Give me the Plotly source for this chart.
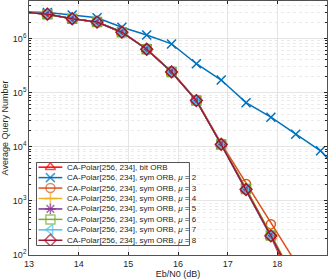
import plotly.graph_objects as go

ebn0 = [12.87, 13.37, 13.87, 14.37, 14.87, 15.37, 15.87, 16.37, 16.87, 17.37, 17.87, 18.37, 18.87, 19.37]

bit_orb = [3.1e6, 2.8e6, 2.3e6, 2.0e6, 1.3e6, 6.3e5, 2.4e5, 7.1e4, 1.1e4, 1.6e3, 2.2e2, 2.2e1, 2.0, 0.2]
mu2 = [3.1e6, 3.0e6, 2.7e6, 2.4e6, 1.6e6, 1.15e6, 7.9e5, 3.4e5, 1.7e5, 6.5e4, 3.5e4, 1.7e4, 8.4e3, 2.6e3]
mu3 = [3.1e6, 2.8e6, 2.3e6, 2.0e6, 1.3e6, 6.4e5, 2.45e5, 7.3e4, 1.15e4, 2.05e3, 3.7e2, 7.0e1, 1.3e1, 2.5]
mu4 = [3.1e6, 2.8e6, 2.3e6, 2.0e6, 1.3e6, 6.3e5, 2.4e5, 7.2e4, 1.12e4, 1.7e3, 2.4e2, 3.5e1, 5.0, 0.7]
mu5 = [3.1e6, 2.8e6, 2.3e6, 2.0e6, 1.3e6, 6.3e5, 2.4e5, 7.1e4, 1.1e4, 1.65e3, 2.3e2, 3.3e1, 4.6, 0.6]
mu6 = [3.1e6, 2.8e6, 2.3e6, 2.0e6, 1.3e6, 6.3e5, 2.4e5, 7.1e4, 1.1e4, 1.65e3, 2.3e2, 3.2e1, 4.5, 0.6]
mu7 = [3.1e6, 2.8e6, 2.3e6, 2.0e6, 1.3e6, 6.3e5, 2.4e5, 7.1e4, 1.1e4, 1.62e3, 2.25e2, 3.1e1, 4.3, 0.6]
mu8 = [3.1e6, 2.8e6, 2.3e6, 2.0e6, 1.3e6, 6.3e5, 2.4e5, 7.1e4, 1.1e4, 1.62e3, 2.25e2, 3.0e1, 4.2, 0.55]

y_tick_vals = [1e2, 1e3, 1e4, 1e5, 1e6]
y_tick_text = ["10<sup>2</sup>", "10<sup>3</sup>", "10<sup>4</sup>", "10<sup>5</sup>", "10<sup>6</sup>"]
x_tick_vals = [13, 14, 15, 16, 17, 18, 19]

series = [
    ("CA-Polar[256, 234], bit ORB", bit_orb, "#FF0000", "triangle-up-open"),
    ("CA-Polar[256, 234], sym ORB, <i>μ</i> = 2", mu2, "#0072BD", "x-thin-open"),
    ("CA-Polar[256, 234], sym ORB, <i>μ</i> = 3", mu3, "#D95319", "circle-open"),
    ("CA-Polar[256, 234], sym ORB, <i>μ</i> = 4", mu4, "#EDB120", "cross-thin-open"),
    ("CA-Polar[256, 234], sym ORB, <i>μ</i> = 5", mu5, "#7E2F8E", "asterisk-open"),
    ("CA-Polar[256, 234], sym ORB, <i>μ</i> = 6", mu6, "#77AC30", "square-open"),
    ("CA-Polar[256, 234], sym ORB, <i>μ</i> = 7", mu7, "#4DBEEE", "triangle-left-open"),
    ("CA-Polar[256, 234], sym ORB, <i>μ</i> = 8", mu8, "#A2142F", "diamond-open"),
]

FONT = "Liberation Sans"
DARK = "#262626"

fig = go.Figure()
for name, ys, col, sym in series:
    fig.add_trace(go.Scatter(
        x=ebn0, y=ys, name=name, mode="lines+markers", showlegend=False,
        line=dict(color=col, width=1.5),
        marker=dict(symbol=sym, size=9, color=col, line=dict(color=col, width=1.5)),
    ))

# ---- custom legend drawn in an overlay subplot (units: pixels inside legend box)
LW, LH = 154, 84
row_h = 10.57
row0 = 4.7
fig.add_trace(go.Scatter(
    x=[0, LW, LW, 0, 0], y=[0, 0, LH, LH, 0], mode="lines", fill="toself",
    fillcolor="white", line=dict(color=DARK, width=0.8),
    xaxis="x2", yaxis="y2", showlegend=False, hoverinfo="skip",
))
for i, (name, ys, col, sym) in enumerate(series):
    yy = row0 + row_h * i
    fig.add_trace(go.Scatter(
        x=[2, 14, 26], y=[yy, yy, yy], mode="lines+markers",
        line=dict(color=col, width=1.5),
        marker=dict(symbol=sym, size=[0, 9, 0], color=col, line=dict(color=col, width=1.5)),
        xaxis="x2", yaxis="y2", showlegend=False, hoverinfo="skip",
    ))
    fig.add_annotation(
        x=29, y=yy, xref="x2", yref="y2", text=name, showarrow=False,
        xanchor="left", yanchor="middle",
        font=dict(family=FONT, size=8, color=DARK),
    )

axis_common = dict(
    showline=True, linecolor=DARK, linewidth=0.8, mirror="allticks",
    ticks="inside", ticklen=3, tickcolor=DARK,
    showgrid=True, gridcolor="#DFDFDF", gridwidth=0.8,
    zeroline=False,
    tickfont=dict(family=FONT, size=9, color=DARK),
)

fig.update_xaxes(
    range=[13, 19], tickvals=x_tick_vals,
    title=dict(text="Eb/N0 (dB)", font=dict(family=FONT, size=9, color=DARK), standoff=2),
    **axis_common,
)
minor_vals = [m * 10 ** e for e in range(2, 7) for m in range(2, 10)]
fig.update_yaxes(
    type="log", range=[2, 6.69], tickvals=y_tick_vals, ticktext=y_tick_text,
    title=dict(text="Average Query Number", font=dict(family=FONT, size=9, color=DARK), standoff=3),
    minor=dict(tickvals=minor_vals, showgrid=True, gridcolor="#E6E6E6", griddash="dot",
               ticks="inside", ticklen=2, tickcolor=DARK),
    **axis_common,
)

fig.update_layout(
    width=332, height=279,
    margin=dict(l=29, r=5, t=1, b=24, autoexpand=False),
    paper_bgcolor="white", plot_bgcolor="white",
    font=dict(family=FONT, size=8, color=DARK),
    showlegend=False,
    hovermode=False,
    xaxis2=dict(domain=[0.0235, 0.540], range=[-0.5, LW + 0.5], visible=False, anchor="y2", fixedrange=True),
    yaxis2=dict(domain=[0.0354, 0.366], range=[LH + 0.5, -0.5], visible=False, anchor="x2", fixedrange=True),
)

fig.write_html(
    "out.html",
    config={"displayModeBar": False, "staticPlot": True},
    post_script="document.body.style.margin='0';document.body.style.overflow='hidden';",
)
